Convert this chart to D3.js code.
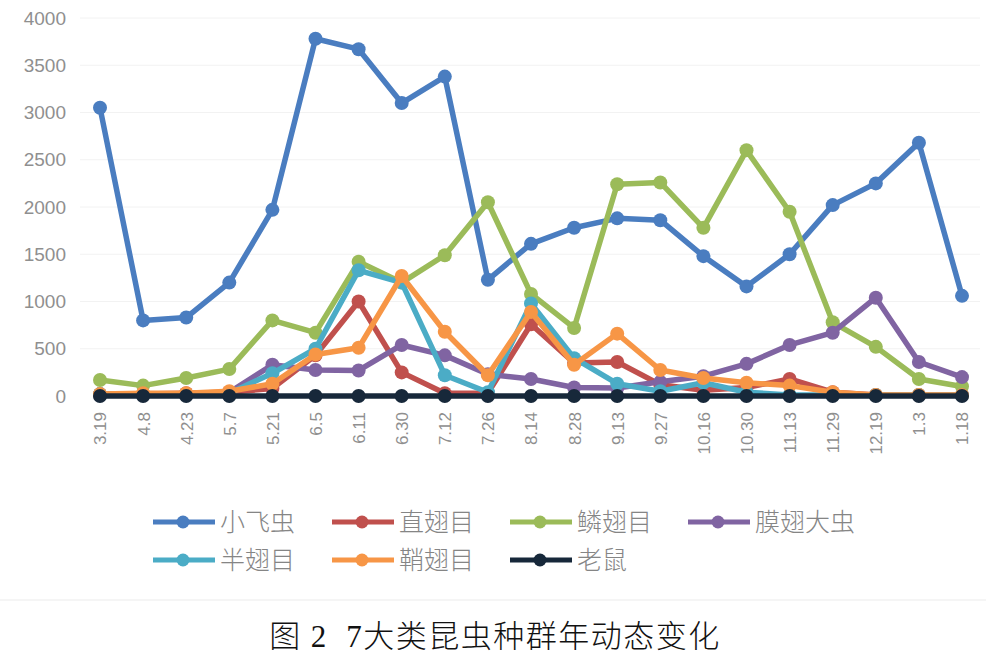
<!DOCTYPE html>
<html>
<head>
<meta charset="utf-8">
<title>7大类昆虫种群年动态变化</title>
<script src="https://d3js.org/d3.v7.min.js"></script>
<style>
  body { margin: 0; background: #fff; }
  svg { display: block; }
  .tick text { fill: #8f8f8f; font-family: "Liberation Sans", "DejaVu Sans", sans-serif; }
</style>
</head>
<body>
<svg id="chart" width="986" height="655"></svg>
<script>
// sampling dates
var dates = ["3.19","4.8","4.23","5.7","5.21","6.5","6.11","6.30","7.12","7.26","8.14",
             "8.28","9.13","9.27","10.16","10.30","11.13","11.29","12.19","1.3","1.18"];

var seriesNames = ["小飞虫","直翅目","鳞翅目","膜翅大虫","半翅目","鞘翅目","老鼠"];

var xiaofeichong = [3050,800,830,1200,1970,3780,3670,3100,3380,1230,1610,1780,1880,1860,1480,1160,1500,2020,2250,2680,1060];
var zhichimu     = [20,20,30,40,80,430,1000,250,30,30,760,350,360,120,60,90,180,40,10,10,10];
var linchimu     = [170,110,190,285,800,670,1420,1200,1490,2050,1080,720,2240,2260,1780,2600,1950,780,520,180,100];
var mochidachong = [10,20,20,40,330,275,270,540,430,230,180,90,85,150,210,340,540,670,1040,360,200];
var banchimu     = [20,20,20,30,240,500,1330,1200,220,40,980,400,130,50,140,40,10,10,10,10,10];
var qiaochimu    = [20,30,30,50,130,440,510,1270,680,220,890,330,660,275,190,140,110,40,10,10,10];
var laoshu       = [0,0,0,0,0,0,0,0,0,0,0,0,0,0,0,0,0,0,0,0,0];

var yTicks = [0,500,1000,1500,2000,2500,3000,3500,4000];
var colors = ["#4a7dc0","#c0504d","#9bbb59","#8064a2","#4bacc6","#f79646","#17283a"];

var seriesData = [xiaofeichong,zhichimu,linchimu,mochidachong,banchimu,qiaochimu,laoshu];

var svg = d3.select("#chart");

var x = d3.scalePoint().domain(dates).range([100, 962]);
var y = d3.scaleLinear().domain([0, 4000]).range([396, 18]);

// gridlines
svg.append("g")
  .selectAll("line")
  .data(yTicks.slice(1))
  .join("line")
  .attr("x1", 80).attr("x2", 980)
  .attr("y1", d => y(d)).attr("y2", d => y(d))
  .attr("stroke", "#f2f2f2").attr("stroke-width", 1);

// y axis (labels only)
var yAxis = svg.append("g")
  .attr("transform", "translate(66,0)")
  .call(d3.axisLeft(y).tickValues(yTicks).tickFormat(d3.format("d")).tickSize(0).tickPadding(0));
yAxis.select(".domain").remove();
yAxis.selectAll("text").style("font-size", "19px");

// x axis (rotated labels)
var xAxis = svg.append("g")
  .attr("transform", "translate(0,396)")
  .call(d3.axisBottom(x).tickSize(0).tickPadding(0));
xAxis.select(".domain").remove();
xAxis.selectAll("text")
  .style("font-size", "17px")
  .attr("text-anchor", "end")
  .attr("dy", "0.35em")
  .attr("transform", "translate(0,16) rotate(-90)");

var line = d3.line()
  .x((d, i) => x(dates[i]))
  .y(d => y(d));

var groups = svg.append("g")
  .selectAll("g")
  .data(seriesData)
  .join("g");

groups.append("path")
  .attr("d", d => line(d))
  .attr("fill", "none")
  .attr("stroke", (d, i) => colors[i])
  .attr("stroke-width", 5.5)
  .attr("stroke-linejoin", "round");

groups.each(function(d, i) {
  d3.select(this).selectAll("circle")
    .data(d)
    .join("circle")
    .attr("cx", (v, j) => x(dates[j]))
    .attr("cy", v => y(v))
    .attr("r", 7)
    .attr("fill", colors[i]);
});

// legend
var legendPos = [[153,522],[332,522],[510,522],[688,522],[153,560],[332,560],[510,560]];
var legend = svg.append("g")
  .selectAll("g")
  .data(seriesNames)
  .join("g")
  .attr("transform", (d, i) => "translate(" + legendPos[i][0] + "," + legendPos[i][1] + ")");

legend.append("line")
  .attr("x1", 0).attr("x2", 62).attr("y1", 0).attr("y2", 0)
  .attr("stroke", (d, i) => colors[i]).attr("stroke-width", 5);
legend.append("circle")
  .attr("cx", 30).attr("cy", 0).attr("r", 6.5)
  .attr("fill", (d, i) => colors[i]);
legend.append("text")
  .attr("x", 67).attr("y", 0).attr("dy", "0.36em")
  .attr("fill", "#858585")
  .style("font-family", "'Noto Sans CJK SC', sans-serif")
  .style("font-size", "25px")
  .style("font-weight", 300)
  .text(d => d);

// separator
svg.append("line")
  .attr("x1", 0).attr("x2", 986).attr("y1", 600).attr("y2", 600)
  .attr("stroke", "#f2f2f2").attr("stroke-width", 1.5);

// caption
svg.append("text")
  .attr("x", 495).attr("y", 636)
  .attr("text-anchor", "middle")
  .attr("dy", "0.35em")
  .attr("fill", "#111")
  .style("font-family", "'Liberation Serif', 'Noto Sans CJK SC', serif")
  .style("font-size", "31px")
  .style("font-weight", 300)
  .style("letter-spacing", "1.5px")
  .style("white-space", "pre")
  .text("图 2  7大类昆虫种群年动态变化");
</script>
</body>
</html>
